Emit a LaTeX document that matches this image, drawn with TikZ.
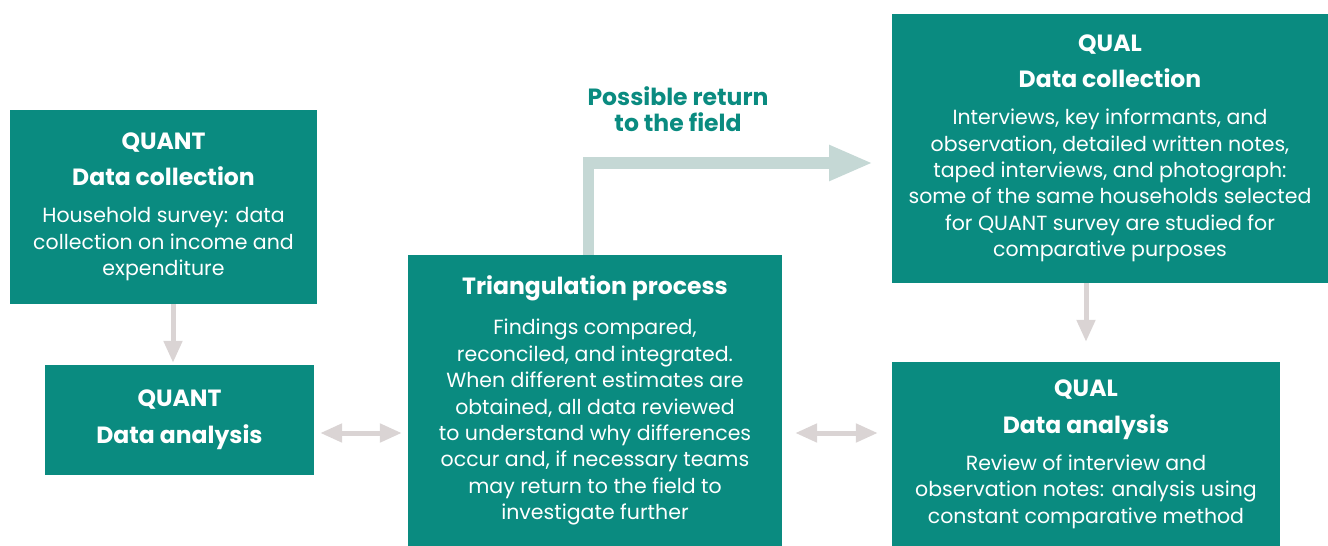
\documentclass[tikz,border=0pt]{standalone}
\usepackage{fontspec}
\setmainfont{Poppins}
\usetikzlibrary{arrows.meta}
\definecolor{boxteal}{RGB}{10,139,128}
\definecolor{arrowgray}{RGB}{218,212,212}
\definecolor{returngray}{RGB}{197,216,213}
\newcommand{\boxhead}[1]{{\bfseries\fontsize{23.5}{26.4}\selectfont #1}}
\begin{document}
\begin{tikzpicture}[x=1pt,y=-1pt,
	box/.style={fill=boxteal,text=white,inner sep=0pt,align=center,font=\fontsize{20.5}{26.4}\selectfont},
	link/.style={draw=arrowgray,line width=5pt,-{Triangle[width=18pt,length=22pt]}},
	twoway/.style={draw=arrowgray,line width=5pt,{Triangle[width=18pt,length=22pt]}-{Triangle[width=18pt,length=22pt]}},
	fieldlink/.style={draw=returngray,line width=11.7pt,line join=miter,-{Triangle[width=33pt,length=44pt]}},
	fieldlabel/.style={text=boxteal,align=center,font=\bfseries\fontsize{23.5}{26}\selectfont}]
	\useasboundingbox (0,0) rectangle (1328,546);
	\node[box,minimum width=307pt,minimum height=194pt] (quantcoll) at (163.5,207)
		{\boxhead{QUANT}\\[9pt]\boxhead{Data collection}\\[11pt]Household survey: data\\collection on income and\\expenditure};
	\node[box,minimum width=269pt,minimum height=110pt] (quantana) at (179.5,420)
		{\boxhead{QUANT}\\[10.6pt]\boxhead{Data analysis}};
	\node[box,minimum width=374pt,minimum height=291pt] (tri) at (595,400.5)
		{\boxhead{Triangulation process}\\[14pt]Findings compared,\\reconciled, and integrated.\\When different estimates are\\obtained, all data reviewed\\to understand why differences\\occur and, if necessary teams\\may return to the field to\\investigate further};
	\node[box,minimum width=436pt,minimum height=269pt] (qualcoll) at (1110,148.5)
		{\boxhead{QUAL}\\[9.6pt]\boxhead{Data collection}\\[10.6pt]Interviews, key informants, and\\observation, detailed written notes,\\taped interviews, and photograph:\\some of the same households selected\\for QUANT survey are studied for\\comparative purposes};
	\node[box,minimum width=388pt,minimum height=184pt] (qualana) at (1086,454)
		{\boxhead{QUAL}\\[10.6pt]\boxhead{Data analysis}\\[10.6pt]Review of interview and\\observation notes: analysis using\\constant comparative method};
	\node[fieldlabel] (fieldtext) at (678,109) {Possible return\\to the field};
	\coordinate (fieldend) at (873,163);
	\draw[link] ([xshift=9.5pt]quantcoll.south) -- ([xshift=-6.5pt,yshift=2pt]quantana.north);
	\draw[link] (qualcoll.south -| qualana.north) -- ([yshift=20pt]qualana.north);
	\draw[twoway] ([xshift=6pt]quantana.east |- 0,433) -- ([xshift=-6pt]tri.west |- 0,433);
	\draw[twoway] ([xshift=13pt]tri.east |- 0,433) -- ([xshift=-14pt]qualana.west |- 0,433);
	\draw[fieldlink] ([xshift=-6.5pt]tri.north) |- (fieldend);
\end{tikzpicture}
\end{document}
